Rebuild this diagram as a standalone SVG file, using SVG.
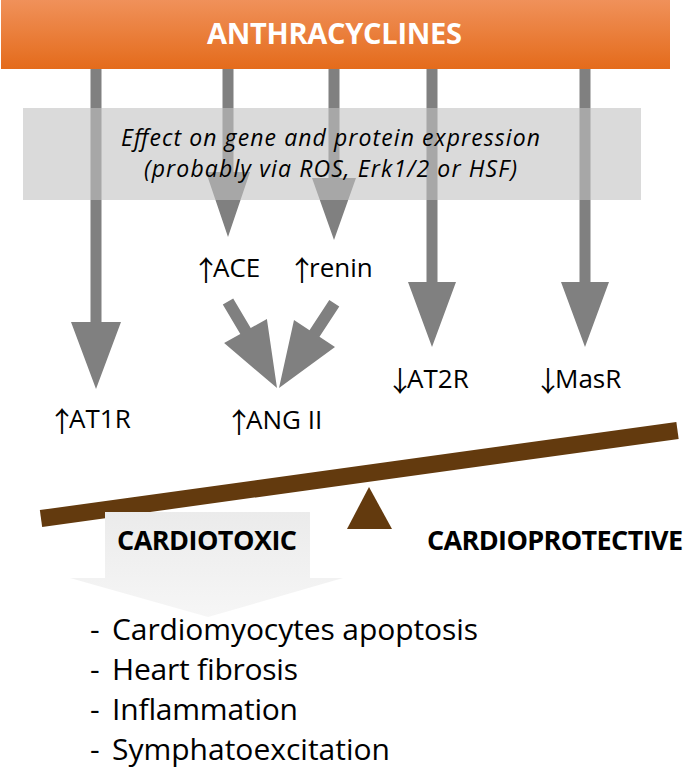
<svg xmlns="http://www.w3.org/2000/svg" width="685" height="773" viewBox="0 0 685 773">
<defs>
<linearGradient id="og" x1="0" y1="0" x2="0" y2="1">
<stop offset="0" stop-color="#F0915A"/>
<stop offset="1" stop-color="#E46B1B"/>
</linearGradient>
<linearGradient id="cg" x1="0" y1="0" x2="0" y2="1">
<stop offset="0" stop-color="#EBEBEB"/>
<stop offset="1" stop-color="#F6F6F6"/>
</linearGradient>
<style>
.arr{fill:#808080;}
.lbl{font-family:"Open Sans","Liberation Sans",sans-serif;font-size:26px;fill:#000;}
.ar{font-family:"Noto Sans CJK SC","DejaVu Sans",sans-serif;font-size:28px;letter-spacing:-7px;}
.bold{font-family:"Open Sans","Liberation Sans",sans-serif;font-weight:bold;font-size:27px;fill:#000;}
.it{font-family:"Open Sans","Liberation Sans",sans-serif;font-style:italic;font-size:23px;fill:#000;}
.lst{font-family:"Open Sans","Liberation Sans",sans-serif;font-size:30px;fill:#000;}
.brown{fill:#633A0E;}
</style>
</defs>
<rect width="685" height="773" fill="#fff"/>

<g id="connectors">
<polygon class="arr" points="90.5,68 101.5,68 101.5,322 121,322 96,389 71,322 90.5,322"/>
<polygon class="arr" points="222.5,68 233.5,68 233.5,172 250,172 228,237 206,172 222.5,172"/>
<polygon class="arr" points="328.5,68 339.5,68 339.5,178 356,178 334,240 312,178 328.5,178"/>
<polygon class="arr" points="426.5,68 437.5,68 437.5,282 456,282 432,347 408,282 426.5,282"/>
<polygon class="arr" points="579.5,68 590.5,68 590.5,282 609,282 585,347 561,282 579.5,282"/>
<polygon class="arr" points="222.8,304.5 233.2,298.5 250.7,328 266.9,318.9 277,388 224.1,343.1 240.3,334"/>
<polygon class="arr" points="329.3,299.9 339.3,306.5 319.5,336.8 335,346.9 279,388 294,320.1 309.5,330.2"/>
</g>

<g id="anthracyclines">
<rect x="1" y="0" width="669" height="69" fill="url(#og)"/>
<text x="334.5" y="44" text-anchor="middle" font-family="'Open Sans','Liberation Sans',sans-serif" font-weight="bold" font-size="29" fill="#fff" textLength="255">ANTHRACYCLINES</text>
</g>

<g id="effect">
<rect x="23" y="108" width="618" height="92" fill="#C2C2C2" fill-opacity="0.6"/>
<text class="it" x="330.5" y="146" text-anchor="middle" textLength="419">Effect on gene and protein expression</text>
<text class="it" x="330.5" y="177" text-anchor="middle" textLength="373">(probably via ROS, Erk1/2 or HSF)</text>
</g>

<g id="ace"><text class="lbl" x="192" y="277"><tspan class="ar" dy="4">↑</tspan><tspan dy="-4">ACE</tspan></text></g>
<g id="renin"><text class="lbl" x="288" y="277"><tspan class="ar" dy="4">↑</tspan><tspan dy="-4">renin</tspan></text></g>
<g id="at1r"><text class="lbl" x="48" y="428"><tspan class="ar" dy="4">↑</tspan><tspan dy="-4">AT1R</tspan></text></g>
<g id="angii"><text class="lbl" x="225" y="429"><tspan class="ar" dy="4">↑</tspan><tspan dy="-4">ANG II</tspan></text></g>
<g id="at2r"><text class="lbl" x="386" y="388"><tspan class="ar" dy="4">↓</tspan><tspan dy="-4">AT2R</tspan></text></g>
<g id="masr"><text class="lbl" x="534" y="388"><tspan class="ar" dy="4">↓</tspan><tspan dy="-4">MasR</tspan></text></g>

<g id="balance">
<line x1="41" y1="518.5" x2="677.5" y2="430.5" stroke="#633A0E" stroke-width="17"/>
<polygon class="brown" points="369,487 392,529 347,529"/>
</g>

<g id="cardiotoxic">
<polygon fill="url(#cg)" points="105,512 310,512 310,578 343,578 208,617 70,578 105,578"/>
<text class="bold" x="117" y="550" textLength="180">CARDIOTOXIC</text>
</g>

<g id="cardioprotective">
<text class="bold" x="427" y="550" textLength="256">CARDIOPROTECTIVE</text>
</g>

<g id="effects-list">
<text class="lst" y="640"><tspan x="90">- </tspan><tspan x="112" textLength="366">Cardiomyocytes apoptosis</tspan></text>
<text class="lst" y="680"><tspan x="90">- </tspan><tspan x="112" textLength="186">Heart fibrosis</tspan></text>
<text class="lst" y="720"><tspan x="90">- </tspan><tspan x="112" textLength="186">Inflammation</tspan></text>
<text class="lst" y="760"><tspan x="90">- </tspan><tspan x="112" textLength="278">Symphatoexcitation</tspan></text>
</g>
</svg>
